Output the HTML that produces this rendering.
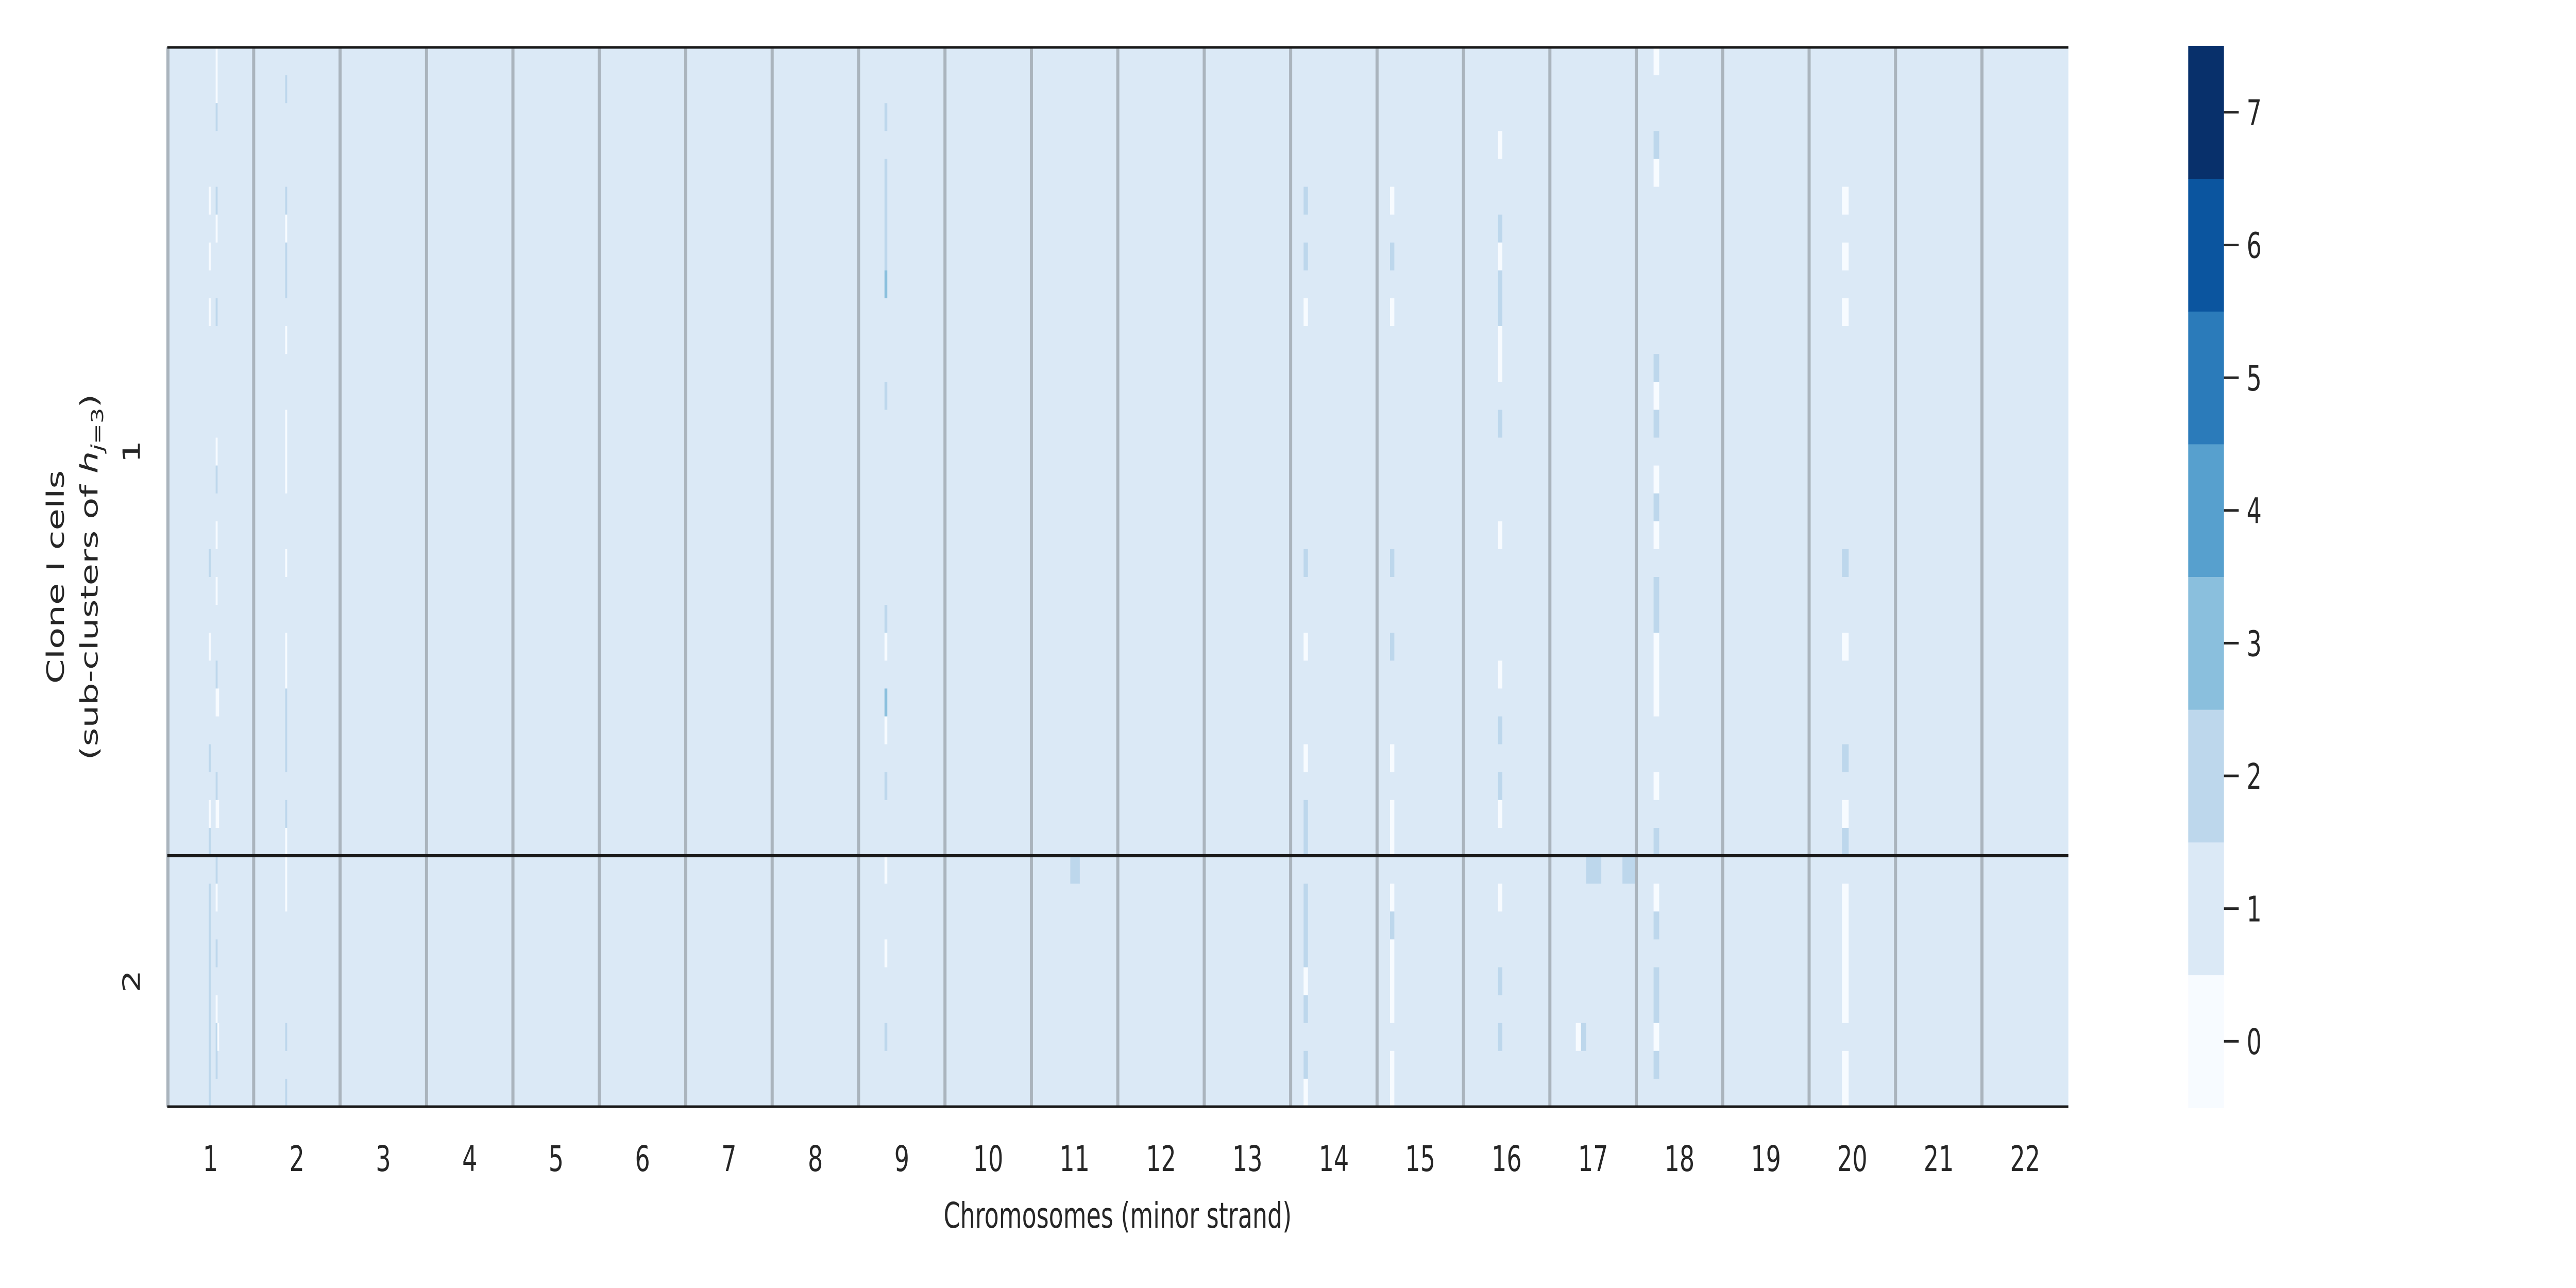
<!DOCTYPE html>
<html><head><meta charset="utf-8"><style>
html,body{margin:0;padding:0;background:#fff;width:100%;height:100%;overflow:hidden;}
svg{display:block;width:100vw;height:100vh;font-family:"DejaVu Sans","Liberation Sans",sans-serif;}
</style></head><body>
<svg id="chart" viewBox="0 0 7500 2500" preserveAspectRatio="none" xmlns="http://www.w3.org/2000/svg">
<g id="cells"></g>
<g id="grid"></g>
<g id="xticks"></g>
<g id="yticks"></g>
<g id="cbar"></g>
<text x="3254" y="2383" font-size="69" text-anchor="middle" fill="#262626">Chromosomes (minor strand)</text>
<g transform="translate(0,1120) rotate(-90)" fill="#262626" font-size="69" text-anchor="middle">
<text x="0" y="186">Clone I cells</text>
<text x="0" y="284">(sub-clusters of <tspan font-style="italic">h</tspan><tspan font-size="48" dy="16" font-style="italic">j</tspan><tspan font-size="48">=3</tspan><tspan dy="-16">)</tspan></text>
</g>
</svg>
<script>
// ---- data ----
const chromosomes = ["1","2","3","4","5","6","7","8","9","10","11","12","13","14","15","16","17","18","19","20","21","22"];
const binsPerChrom = 20;
const nRows = 38;
const clusterLabels = ["1","2"];
const clusterRows = [29, 9];
const backgroundValue = 1;
// marks: each is [startBin, widthBins, startRow, rowCount, value]
const marksChr1 = [[9.6,0.45,5,1,0],[9.6,0.45,7,1,0],[9.6,0.45,9,1,0],[9.6,0.45,18,1,2],[9.6,0.45,21,1,0],[9.6,0.45,25,1,2],[9.6,0.45,27,1,0],[9.6,0.45,28,1,2],[9.6,0.45,30,8,2],
 [11.2,0.45,0,2,0],[11.2,0.45,2,1,2],[11.2,0.45,5,1,2],[11.2,0.45,6,1,0],[11.2,0.45,9,1,2],[11.2,0.45,14,1,0],[11.2,0.45,15,1,2],[11.2,0.45,17,1,0],[11.2,0.45,19,1,0],[11.2,0.45,22,1,2],[11.2,0.8,23,1,0],[11.2,0.45,26,1,2],[11.2,0.8,27,1,0],[11.2,0.45,29,1,2],[11.2,0.45,30,1,0],[11.2,0.45,32,1,2],[11.2,0.45,34,1,0],[11.2,0.45,35,2,2],[11.6,0.4,35,1,0]];
const marksChr2 = [[27.3,0.45,1,1,2],[27.3,0.45,5,1,2],[27.3,0.45,6,1,0],[27.3,0.45,7,2,2],[27.3,0.45,10,1,0],[27.3,0.45,13,3,0],[27.3,0.45,18,1,0],[27.3,0.45,21,2,0],[27.3,0.45,23,3,2],[27.3,0.45,27,1,2],[27.3,0.45,28,3,0],[27.3,0.45,35,1,2],[27.3,0.45,37,1,2]];
const marksChr9 = [[166,0.65,2,1,2],[166,0.65,4,4,2],[166,0.65,8,1,3],[166,0.65,12,1,2],[166,0.65,20,1,2],[166,0.65,21,1,0],[166,0.65,23,1,3],[166,0.65,24,1,0],[166,0.65,26,1,2],[166,0.65,29,1,0],[166,0.65,32,1,0],[166,0.65,35,1,2]];
const marksChr11 = [[209,2.2,29,1,2]];
const marksChr14 = [[263,1,5,1,2],[263,1,7,1,2],[263,1,9,1,0],[263,1,18,1,2],[263,1,21,1,0],[263,1,25,1,0],[263,1,27,2,2],[263,1,30,3,2],[263,1,33,1,0],[263,1,34,1,2],[263,1,36,1,2],[263,1,37,1,0]];
const marksChr15 = [[283,1,5,1,0],[283,1,7,1,2],[283,1,9,1,0],[283,1,18,1,2],[283,1,21,1,2],[283,1,25,1,0],[283,1,27,2,0],[283,1,30,1,0],[283,1,31,1,2],[283,1,32,3,0],[283,1,36,2,0]];
const marksChr16 = [[308,1,3,1,0],[308,1,6,1,2],[308,1,7,1,0],[308,1,8,2,2],[308,1,10,2,0],[308,1,13,1,2],[308,1,17,1,0],[308,1,22,1,0],[308,1,24,1,2],[308,1,26,1,2],[308,1,27,1,0],[308,1,30,1,0],[308,1,33,1,2],[308,1,35,1,2]];
const marksChr17 = [[328.4,3.5,29,1,2],[336.8,3,29,1,2],[326,1.2,35,1,0],[327.2,1.2,35,1,2]];
const marksChr18 = [[344,1.3,0,1,0],[344,1.3,3,1,2],[344,1.3,4,1,0],[344,1.3,11,1,2],[344,1.3,12,1,0],[344,1.3,13,1,2],[344,1.3,15,1,0],[344,1.3,16,1,2],[344,1.3,17,1,0],[344,1.3,19,2,2],[344,1.3,21,3,0],[344,1.3,26,1,0],[344,1.3,28,1,2],[344,1.3,30,1,0],[344,1.3,31,1,2],[344,1.3,33,2,2],[344,1.3,35,1,0],[344,1.3,36,1,2]];
const marksChr20 = [[387.6,1.55,5,1,0],[387.6,1.55,7,1,0],[387.6,1.55,9,1,0],[387.6,1.55,18,1,2],[387.6,1.55,21,1,0],[387.6,1.55,25,1,2],[387.6,1.55,27,1,0],[387.6,1.55,28,1,2],[387.6,1.55,30,5,0],[387.6,1.55,36,2,0]];
const colorLevels = [0,1,2,3,4,5,6,7];
const colorHex = ["#f7fbff","#dbe9f6","#bdd7ec","#8abfdd","#57a0ce","#2b7bba","#0b559f","#08306b"];

// ---- layout ----
const NS = "http://www.w3.org/2000/svg";
const X0 = 487, X1 = 6022, Y0 = 92, Y1 = 2148;
const totalBins = chromosomes.length * binsPerChrom;
const xScale = b => X0 + b * (X1 - X0) / totalBins;
const yScale = r => Y0 + r * (Y1 - Y0) / nRows;
const color = v => colorHex[Math.max(0, Math.min(7, Math.round(v)))];
function mk(tag, attrs, parent){ const e=document.createElementNS(NS,tag); for(const k in attrs) e.setAttribute(k,attrs[k]); parent.appendChild(e); return e; }

const cells = document.getElementById('cells');
let bg = mk('rect',{x:X0,y:Y0,width:X1-X0,height:Y1-Y0,fill:color(backgroundValue)},cells);


const allMarks = [].concat(marksChr1,marksChr2,marksChr9,marksChr11,marksChr14,marksChr15,marksChr16,marksChr17,marksChr18,marksChr20);
allMarks.forEach(m=>{
  const x=xScale(m[0]), w=xScale(m[0]+m[1])-x, y=yScale(m[2]), h=yScale(m[2]+m[3])-y;
  const r = mk('rect',{x:x,y:y,width:w,height:h,fill:color(m[4])},cells);
  
  
});

const grid = document.getElementById('grid');
for(let i=0;i<chromosomes.length;i++){
  const x = xScale(i*binsPerChrom) + (i===0?2:0);
  const l = mk('line',{x1:x,x2:x,y1:Y0,y2:Y1,stroke:"#aab4bd","stroke-width":9},grid);
  
  
}
let acc=0;
for(let c=0;c<clusterRows.length-1;c++){ acc+=clusterRows[c];
  const y=yScale(acc);
  const l=mk('line',{x1:X0,x2:X1,y1:y,y2:y,stroke:"#1a1a1a","stroke-width":6},grid);
  
  
}
[Y0,Y1].forEach(y=>{ const l=mk('line',{x1:X0,x2:X1,y1:y,y2:y,stroke:"#1a1a1a","stroke-width":5},grid);
  
   });

const xt = document.getElementById('xticks');
chromosomes.forEach((c,i)=>{
  const t=mk('text',{x:xScale((i+0.5)*binsPerChrom),y:2273,"font-size":69,"text-anchor":"middle",fill:"#262626"},xt);
  t.textContent=c;
  
  
});
const yt = document.getElementById('yticks');
acc=0;
clusterLabels.forEach((lab,i)=>{
  const yc=yScale(acc+clusterRows[i]/2); acc+=clusterRows[i];
  const t=mk('text',{x:0,y:0,"font-size":69,"text-anchor":"middle",fill:"#262626",transform:`translate(407,${yc}) rotate(-90)`},yt);
  t.textContent=lab;
  
  
});

const cb = document.getElementById('cbar');
const CB0=89, CB1=2150, CX=6371, CW=104;
const segH=(CB1-CB0)/colorLevels.length;
colorLevels.forEach((v,i)=>{
  const y=CB1-(i+1)*segH;
  const r=mk('rect',{x:CX,y:y,width:CW,height:segH+0.5,fill:colorHex[i]},cb);
  
  
  const yc=y+segH/2;
  const tk=mk('line',{x1:CX+CW,x2:CX+CW+43,y1:yc,y2:yc,stroke:"#262626","stroke-width":5},cb);
  
  
  const t=mk('text',{x:6541,y:yc+25,"font-size":69,fill:"#262626"},cb);
  t.textContent=String(v);
  
  
});
</script>
</body></html>
